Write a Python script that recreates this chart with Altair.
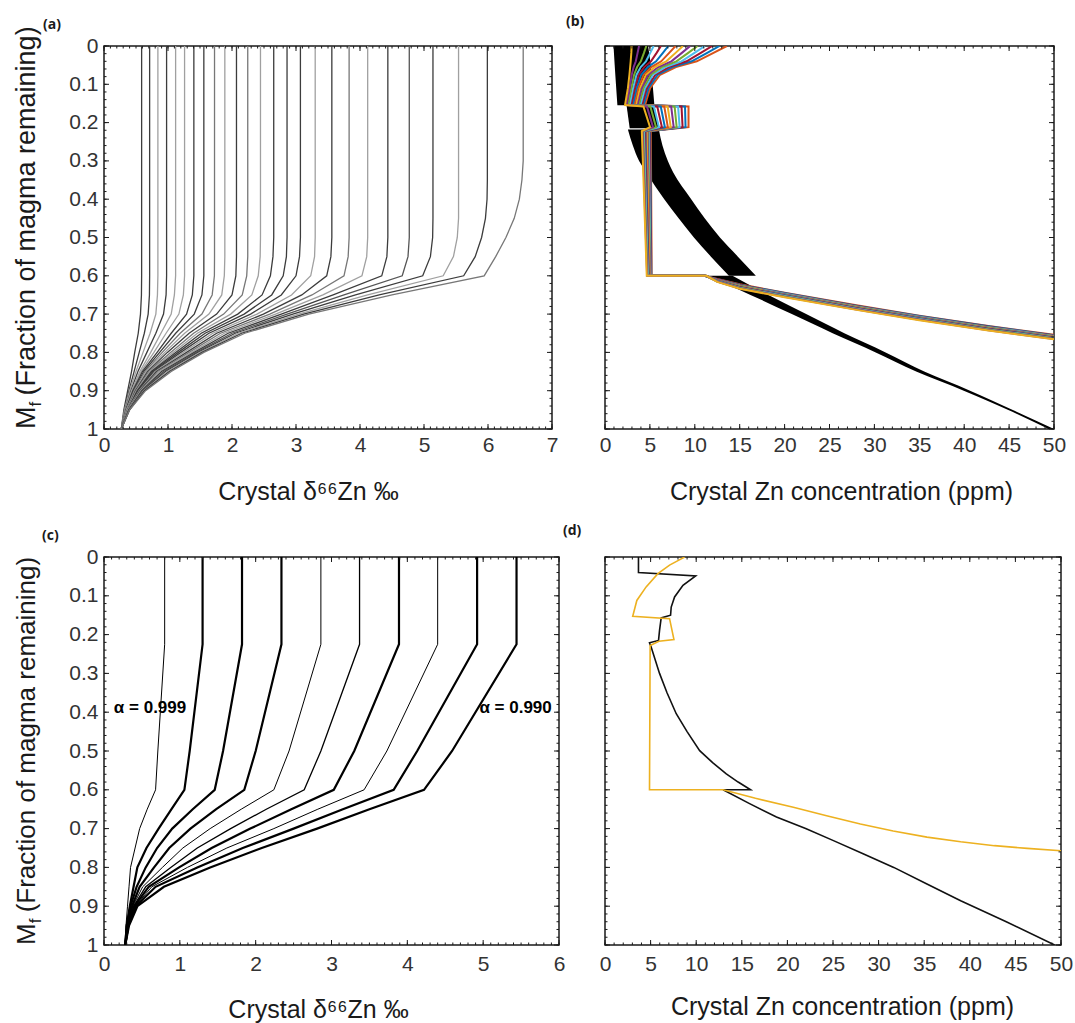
import altair as alt
import pandas as pd

FONT = "Liberation Sans"
INK = "#1a1a1a"
LABEL_INK = "#333333"

# ---------------- Panel (a): crystal d66Zn for many fractionation factors
A_LEVELS = [1.0, 0.95, 0.9, 0.85, 0.8, 0.75, 0.7, 0.65, 0.6, 0.55, 0.5, 0.45, 0.4, 0.35, 0.3]
A_CURVES = [
    [0.27, 0.31, 0.37, 0.43, 0.48, 0.535, 0.57, 0.585, 0.588],
    [0.27, 0.32, 0.39, 0.47, 0.55, 0.63, 0.69, 0.71, 0.713],
    [0.27, 0.32, 0.40, 0.50, 0.61, 0.72, 0.81, 0.835, 0.842],
    [0.27, 0.33, 0.42, 0.53, 0.67, 0.81, 0.93, 0.97, 0.978],
    [0.27, 0.33, 0.43, 0.56, 0.73, 0.89, 1.05, 1.10, 1.119],
    [0.27, 0.34, 0.44, 0.58, 0.78, 0.97, 1.17, 1.24, 1.259],
    [0.27, 0.34, 0.45, 0.60, 0.83, 1.05, 1.29, 1.38, 1.404],
    [0.27, 0.35, 0.46, 0.62, 0.87, 1.12, 1.41, 1.53, 1.56],
    [0.27, 0.35, 0.47, 0.64, 0.91, 1.19, 1.53, 1.69, 1.725, 1.727],
    [0.27, 0.35, 0.48, 0.66, 0.95, 1.26, 1.64, 1.84, 1.88, 1.888],
    [0.27, 0.36, 0.49, 0.68, 0.99, 1.33, 1.76, 2.00, 2.06, 2.07],
    [0.27, 0.36, 0.50, 0.70, 1.04, 1.40, 1.87, 2.16, 2.23, 2.246],
    [0.27, 0.36, 0.51, 0.72, 1.08, 1.46, 1.98, 2.31, 2.41, 2.44, 2.445],
    [0.27, 0.37, 0.52, 0.74, 1.12, 1.52, 2.09, 2.47, 2.60, 2.64, 2.652],
    [0.27, 0.37, 0.53, 0.76, 1.16, 1.58, 2.19, 2.62, 2.80, 2.85, 2.86],
    [0.27, 0.37, 0.54, 0.78, 1.20, 1.64, 2.29, 2.77, 3.00, 3.055, 3.069],
    [0.27, 0.37, 0.55, 0.80, 1.24, 1.70, 2.39, 2.93, 3.23, 3.29, 3.30],
    [0.27, 0.38, 0.56, 0.82, 1.29, 1.76, 2.49, 3.09, 3.48, 3.545, 3.56],
    [0.27, 0.38, 0.57, 0.84, 1.33, 1.82, 2.59, 3.25, 3.75, 3.815, 3.83],
    [0.27, 0.38, 0.58, 0.87, 1.37, 1.88, 2.68, 3.42, 4.03, 4.105, 4.12],
    [0.27, 0.39, 0.59, 0.90, 1.41, 1.94, 2.77, 3.58, 4.34, 4.42, 4.435],
    [0.27, 0.39, 0.60, 0.93, 1.44, 2.00, 2.86, 3.75, 4.66, 4.75, 4.77],
    [0.27, 0.39, 0.61, 0.96, 1.47, 2.05, 2.95, 3.93, 4.98, 5.10, 5.135, 5.14],
    [0.27, 0.40, 0.62, 0.99, 1.50, 2.10, 3.04, 4.12, 5.30, 5.46, 5.52, 5.54],
    [0.27, 0.40, 0.63, 1.02, 1.53, 2.15, 3.12, 4.30, 5.62, 5.80, 5.90, 5.96, 5.985, 5.99],
    [0.27, 0.40, 0.65, 1.05, 1.56, 2.20, 3.20, 4.50, 5.94, 6.12, 6.28, 6.41, 6.49, 6.53, 6.55],
]
A_SHADES = ["#3c3c3c", "#3c3c3c", "#a0a0a0", "#3c3c3c", "#a0a0a0", "#a0a0a0", "#3c3c3c",
            "#3c3c3c", "#777777", "#a0a0a0", "#3c3c3c", "#777777", "#a0a0a0", "#3c3c3c",
            "#3c3c3c", "#3c3c3c", "#a0a0a0", "#3c3c3c", "#777777", "#a0a0a0", "#3c3c3c",
            "#555555", "#3c3c3c", "#a0a0a0", "#3c3c3c", "#777777"]

# ---------------- Panel (c): ten fractionation factors, alpha 0.999 ... 0.990
C_LEVELS = [1.0, 0.95, 0.9, 0.85, 0.8, 0.75, 0.7, 0.65, 0.6, 0.5, 0.225]
C_CURVES = [
    [0.28, 0.29, 0.31, 0.33, 0.35, 0.41, 0.47, 0.57, 0.68, 0.71, 0.80],
    [0.28, 0.30, 0.34, 0.39, 0.44, 0.56, 0.72, 0.89, 1.06, 1.13, 1.30],
    [0.28, 0.30, 0.35, 0.43, 0.55, 0.70, 0.90, 1.17, 1.46, 1.57, 1.82],
    [0.28, 0.31, 0.37, 0.47, 0.66, 0.86, 1.14, 1.48, 1.85, 2.00, 2.34],
    [0.28, 0.31, 0.38, 0.51, 0.77, 1.04, 1.40, 1.81, 2.24, 2.44, 2.86],
    [0.28, 0.31, 0.39, 0.55, 0.88, 1.23, 1.67, 2.14, 2.64, 2.86, 3.37],
    [0.28, 0.32, 0.40, 0.59, 0.99, 1.42, 1.93, 2.47, 3.03, 3.30, 3.89],
    [0.28, 0.32, 0.41, 0.63, 1.10, 1.62, 2.24, 2.82, 3.43, 3.73, 4.40],
    [0.28, 0.32, 0.42, 0.68, 1.23, 1.83, 2.50, 3.15, 3.82, 4.13, 4.92],
    [0.28, 0.33, 0.44, 0.79, 1.40, 2.08, 2.81, 3.50, 4.22, 4.59, 5.44],
]
C_WIDTHS = [1.0, 2.2, 2.2, 2.2, 1.0, 1.3, 2.2, 1.0, 2.2, 2.2]
C_LABELS = ["α = 0.999", "α = 0.990"]
C_LABEL_X = [0.13, 4.95]
C_LABEL_MF = [0.39, 0.39]

# ---------------- Panel (b): crystal Zn concentration, family of models
B_BAND_MF = [0.0, 0.018, 0.04, 0.055, 0.075, 0.11, 0.154, 0.158, 0.212, 0.222, 0.6]
B_BAND_X = [
    [2.97, 3.79, 4.60, 5.42, 6.23, 7.05, 7.86, 8.68, 9.49, 10.31, 11.12, 11.94, 12.75, 13.57],
    [2.93, 3.63, 4.34, 5.04, 5.75, 6.45, 7.15, 7.86, 8.56, 9.27, 9.97, 10.67, 11.38, 12.08],
    [2.86, 3.43, 3.99, 4.56, 5.12, 5.69, 6.26, 6.82, 7.39, 7.95, 8.52, 9.09, 9.65, 10.22],
    [2.80, 3.19, 3.58, 3.98, 4.37, 4.76, 5.15, 5.55, 5.94, 6.33, 6.72, 7.12, 7.51, 7.90],
    [2.72, 2.98, 3.24, 3.51, 3.77, 4.03, 4.29, 4.56, 4.82, 5.08, 5.34, 5.61, 5.87, 6.13],
    [2.55, 2.74, 2.93, 3.12, 3.31, 3.50, 3.69, 3.88, 4.07, 4.26, 4.45, 4.64, 4.83, 5.02],
    [2.23, 2.40, 2.57, 2.74, 2.92, 3.09, 3.26, 3.43, 3.60, 3.77, 3.95, 4.12, 4.29, 4.46],
    [4.28, 4.67, 5.05, 5.44, 5.82, 6.21, 6.60, 6.98, 7.37, 7.75, 8.14, 8.52, 8.91, 9.30],
    [5.02, 5.35, 5.68, 6.01, 6.34, 6.67, 7.00, 7.32, 7.65, 7.98, 8.31, 8.64, 8.97, 9.30],
    [4.10, 4.18, 4.25, 4.33, 4.41, 4.48, 4.56, 4.64, 4.72, 4.79, 4.87, 4.95, 5.02, 5.10],
    [4.65, 4.69, 4.73, 4.78, 4.82, 4.86, 4.90, 4.95, 4.99, 5.03, 5.07, 5.12, 5.16, 5.20],
]
B_TAIL_START_X = [11.30, 11.28, 11.26, 11.24, 11.22, 11.20, 11.18, 11.16, 11.14, 11.12, 11.10, 11.08, 11.06, 11.04]
B_TAIL_X = [12.5, 15.0, 20.0, 28.0, 35.0, 42.7, 50.0]
B_TAIL_MF = [
    [0.616, 0.615, 0.615, 0.614, 0.614, 0.613, 0.612, 0.612, 0.611, 0.611, 0.610, 0.609, 0.609, 0.608],
    [0.634, 0.633, 0.632, 0.631, 0.630, 0.629, 0.629, 0.628, 0.627, 0.626, 0.625, 0.624, 0.623, 0.622],
    [0.656, 0.655, 0.654, 0.653, 0.652, 0.651, 0.651, 0.650, 0.649, 0.648, 0.647, 0.646, 0.645, 0.644],
    [0.689, 0.688, 0.687, 0.686, 0.685, 0.684, 0.684, 0.683, 0.682, 0.681, 0.680, 0.679, 0.678, 0.677],
    [0.716, 0.715, 0.714, 0.713, 0.712, 0.711, 0.711, 0.710, 0.709, 0.708, 0.707, 0.706, 0.705, 0.704],
    [0.743, 0.742, 0.741, 0.740, 0.739, 0.738, 0.738, 0.737, 0.736, 0.735, 0.734, 0.733, 0.732, 0.731],
    [0.766, 0.765, 0.764, 0.763, 0.762, 0.761, 0.761, 0.760, 0.759, 0.758, 0.757, 0.756, 0.755, 0.754],
]
B_COLORS = ["#EDB120", "#7E2F8E", "#77AC30", "#4DBEEE", "#A2142F", "#0072BD", "#D95319",
            "#EDB120", "#7E2F8E", "#77AC30", "#4DBEEE", "#A2142F", "#0072BD", "#D95319"]
# black envelope of the second model family (segments: Mf, left x, right x)
B_BLACK = [
    ([0.0, 0.05, 0.10, 0.155], [0.95, 1.08, 1.22, 1.38], [4.8, 5.1, 5.3, 5.5]),
    ([0.155, 0.215], [2.4, 2.75], [5.5, 5.95]),
    ([0.218, 0.26, 0.30, 0.33, 0.40, 0.45, 0.50, 0.55, 0.60],
     [2.55, 3.1, 3.8, 4.6, 6.6, 8.2, 9.9, 11.8, 13.8],
     [6.0, 6.4, 7.0, 7.6, 9.6, 11.1, 12.8, 14.8, 16.8]),
    ([0.60, 0.65, 0.70, 0.75, 0.80, 0.85, 0.90, 0.95, 1.0],
     [11.3, 16.2, 20.8, 25.35, 30.15, 34.65, 39.95, 44.85, 49.4],
     [14.2, 18.2, 22.4, 26.65, 31.25, 35.55, 40.65, 45.35, 50.0]),
]

# ---------------- Panel (d): two single models
D_BLACK_X = [3.67, 3.67, 9.94, 8.55, 7.63, 7.26, 7.19, 6.16, 5.98, 5.87, 4.88, 5.06, 5.98, 6.8,
             7.81, 9.0, 10.38, 11.8, 13.3, 14.6, 15.96, 12.95, 15.8, 18.8, 22.0, 25.05, 28.3,
             31.66, 35.3, 39.0, 44.0, 49.3]
D_BLACK_MF = [0.0, 0.040, 0.049, 0.073, 0.103, 0.129, 0.150, 0.157, 0.189, 0.215, 0.221, 0.232,
              0.30, 0.35, 0.404, 0.45, 0.499, 0.53, 0.559, 0.58, 0.6, 0.6, 0.635, 0.67, 0.70,
              0.731, 0.765, 0.8, 0.843, 0.886, 0.94, 1.0]
D_ORANGE_X = [8.73, 7.95, 7.08, 5.80, 4.51, 3.49, 3.04, 7.08, 7.56, 5.91, 4.95, 4.88, 12.95,
              16.5, 20.65, 24.3, 28.0, 31.6, 35.3, 39.0, 42.7, 46.3, 50.0]
D_ORANGE_MF = [0.0, 0.010, 0.021, 0.043, 0.077, 0.112, 0.153, 0.159, 0.213, 0.217, 0.228, 0.6,
               0.6, 0.622, 0.645, 0.667, 0.688, 0.706, 0.722, 0.734, 0.744, 0.751, 0.757]

Y_TICKS = [0, 0.1, 0.2, 0.3, 0.4, 0.5, 0.6, 0.7, 0.8, 0.9, 1]


# ---------------- helpers
def curves_df(levels, curves):
    rows = []
    for k, xs in enumerate(curves):
        for j, x in enumerate(xs):
            rows.append({"curve": k, "x": x, "mf": levels[j], "ord": j})
        rows.append({"curve": k, "x": xs[-1], "mf": 0.0, "ord": len(xs)})
    return pd.DataFrame(rows)


def yscale():
    return alt.Scale(domain=[0, 1], reverse=True, nice=False, zero=False)


def xscale(xmax):
    return alt.Scale(domain=[0, xmax], nice=False, zero=False)


def xaxis(values, title, title_x, title_y, lpad):
    return alt.Axis(values=values, format="~g", ticks=False, domain=False, grid=False,
                    labelFlush=False, labelFont=FONT, labelFontSize=21, labelColor=LABEL_INK,
                    labelPadding=lpad, title=title, titleFont=FONT, titleFontSize=25,
                    titleFontWeight="normal", titleColor=INK, titleX=title_x, titleY=title_y,
                    titleAlign="center", titleBaseline="middle")


def yaxis():
    return alt.Axis(values=Y_TICKS, format="~g", ticks=False, domain=False, grid=False,
                    labelFont=FONT, labelFontSize=21, labelColor=LABEL_INK, labelPadding=6,
                    title=None)


def frame_ticks(xs, xax, yax, xmax, xmaj, xmin, W, H):
    nmaj = int(round(xmax / xmaj))
    nmin = int(round(xmax / xmin))
    x_major = [round(i * xmaj, 6) for i in range(nmaj + 1)]
    x_minor = [round(i * xmin, 6) for i in range(nmin + 1)]
    y_major = [round(i * 0.1, 6) for i in range(11)]
    y_minor = [round(i * 0.02, 6) for i in range(51)]
    layers = []
    for vals, ln in ((x_major, 5), (x_minor, 2.5)):
        d = pd.DataFrame({"v": vals})
        for y0, y1 in ((0, ln), (H, H - ln)):
            layers.append(alt.Chart(d).mark_rule(color=INK, strokeWidth=1).encode(
                x=alt.X("v:Q", scale=xs, axis=xax), y=alt.value(y0), y2=alt.value(y1)))
    for vals, ln in ((y_major, 5), (y_minor, 2.5)):
        d = pd.DataFrame({"v": vals})
        for x0, x1 in ((0, ln), (W, W - ln)):
            layers.append(alt.Chart(d).mark_rule(color=INK, strokeWidth=1).encode(
                y=alt.Y("v:Q", scale=yscale(), axis=yax), x=alt.value(x0), x2=alt.value(x1)))
    return layers


def letter(t, lx, ly):
    return alt.Chart(pd.DataFrame({"t": [t]})).mark_text(
        font="Open Sans", fontSize=14, fontWeight="bold", align="left", baseline="middle",
        color=INK).encode(text="t:N", x=alt.value(lx), y=alt.value(ly))


def ytitle(H, fs):
    bx = -69
    m_w = 0.833 * fs
    parts = [("M", fs, bx, H), ("f", 17, bx + 6, H - m_w),
             ("(Fraction of magma remaining)", fs, bx, H - m_w - 11)]
    out = []
    for t, size, x, y in parts:
        out.append(alt.Chart(pd.DataFrame({"t": [t]})).mark_text(
            angle=270, align="left", baseline="alphabetic", font=FONT, fontSize=size,
            color=INK).encode(text="t:N", x=alt.value(x), y=alt.value(y)))
    return out


D66 = "Crystal δ⁶⁶Zn ‰"
ZN = "Crystal Zn concentration (ppm)"

# ---------------- panel (a)
WA, HA = 448, 383
xs_a = xscale(7)
xa_axis = xaxis(list(range(8)), D66, 204, 62, 5)
ya_axis = yaxis()
dfa = curves_df(A_LEVELS, A_CURVES)
dfa["shade"] = [A_SHADES[c] for c in dfa["curve"]]
lines_a = alt.Chart(dfa).mark_line(strokeWidth=1.3, clip=True).encode(
    x=alt.X("x:Q", scale=xs_a, axis=xa_axis),
    y=alt.Y("mf:Q", scale=yscale(), axis=ya_axis),
    detail="curve:N", order=alt.Order("ord:Q"),
    color=alt.Color("shade:N", scale=None))
panel_a = alt.layer(lines_a, *frame_ticks(xs_a, xa_axis, ya_axis, 7, 1, 0.1, WA, HA),
                    *ytitle(HA, 27), letter("(a)", -61, -21)).properties(width=WA, height=HA)

# ---------------- panel (b)
WB, HB = 449, 383
xs_b = xscale(50)
xb_axis = xaxis(list(range(0, 51, 5)), ZN, 236, 62, 5)
black_rows = []
for s, (mfs, xl, xr) in enumerate(B_BLACK):
    for m, a, b in zip(mfs, xl, xr):
        black_rows.append({"seg": s, "mf": m, "xl": a, "xr": b})
black_b = alt.Chart(pd.DataFrame(black_rows)).mark_area(
    orient="horizontal", color="black", clip=True, interpolate="monotone").encode(
    y=alt.Y("mf:Q", scale=yscale(), axis=None),
    x=alt.X("xl:Q", scale=xs_b, axis=xb_axis, stack=False),
    x2="xr:Q", detail="seg:N")

band_rows = []
n_lines = len(B_COLORS)
for i in reversed(range(n_lines)):
    o = 0
    for j, m in enumerate(B_BAND_MF):
        band_rows.append({"line": i, "x": B_BAND_X[j][i], "mf": m, "ord": o, "col": B_COLORS[i]})
        o += 1
    band_rows.append({"line": i, "x": B_TAIL_START_X[i], "mf": 0.6, "ord": o, "col": B_COLORS[i]})
    o += 1
    for j, x in enumerate(B_TAIL_X):
        band_rows.append({"line": i, "x": x, "mf": B_TAIL_MF[j][i], "ord": o, "col": B_COLORS[i]})
        o += 1
dfb = pd.DataFrame(band_rows)
band_b = alt.Chart(dfb[dfb["line"] != 0]).mark_line(strokeWidth=2, clip=True).encode(
    x=alt.X("x:Q", scale=xs_b, axis=xb_axis),
    y=alt.Y("mf:Q", scale=yscale(), axis=None),
    detail="line:N", order=alt.Order("ord:Q"), color=alt.Color("col:N", scale=None))
edge_b = alt.Chart(dfb[dfb["line"] == 0]).mark_line(strokeWidth=2, clip=True).encode(
    x=alt.X("x:Q", scale=xs_b, axis=xb_axis),
    y=alt.Y("mf:Q", scale=yscale(), axis=None),
    order=alt.Order("ord:Q"), color=alt.Color("col:N", scale=None))
panel_b = alt.layer(black_b, band_b, edge_b,
                    *frame_ticks(xs_b, xb_axis, None, 50, 5, 1, WB, HB),
                    letter("(b)", -39, -24)).properties(width=WB, height=HB)

# ---------------- panel (c)
WC, HC = 455, 388
xs_c = xscale(6)
xc_axis = xaxis(list(range(7)), D66, 214, 64, 8)
yc_axis = yaxis()
dfc = curves_df(C_LEVELS, C_CURVES)
dfc["sw"] = [C_WIDTHS[c] for c in dfc["curve"]]
lines_c = alt.Chart(dfc).mark_line(color="black", clip=True).encode(
    x=alt.X("x:Q", scale=xs_c, axis=xc_axis),
    y=alt.Y("mf:Q", scale=yscale(), axis=yc_axis),
    detail="curve:N", order=alt.Order("ord:Q"),
    strokeWidth=alt.StrokeWidth("sw:Q", scale=None))
lab_c = alt.Chart(pd.DataFrame({"t": C_LABELS, "x": C_LABEL_X, "mf": C_LABEL_MF})).mark_text(
    font=FONT, fontSize=17, fontWeight="bold", align="left", baseline="middle",
    color="black").encode(
    x=alt.X("x:Q", scale=xs_c, axis=xc_axis), y=alt.Y("mf:Q", scale=yscale(), axis=yc_axis),
    text="t:N")
panel_c = alt.layer(lines_c, lab_c, *frame_ticks(xs_c, xc_axis, yc_axis, 6, 1, 0.1, WC, HC),
                    *ytitle(HC, 26), letter("(c)", -62, -21)).properties(width=WC, height=HC)

# ---------------- panel (d)
WD, HD = 456, 388
xs_d = xscale(50)
xd_axis = xaxis(list(range(0, 51, 5)), ZN, 237, 61, 8)
rows_d = []
for k, (xs, ms, col) in enumerate(((D_BLACK_X, D_BLACK_MF, "#111111"),
                                   (D_ORANGE_X, D_ORANGE_MF, "#EDB120"))):
    for j, (x, m) in enumerate(zip(xs, ms)):
        rows_d.append({"curve": k, "x": x, "mf": m, "ord": j, "col": col})
lines_d = alt.Chart(pd.DataFrame(rows_d)).mark_line(strokeWidth=1.6, clip=True).encode(
    x=alt.X("x:Q", scale=xs_d, axis=xd_axis),
    y=alt.Y("mf:Q", scale=yscale(), axis=None),
    detail="curve:N", order=alt.Order("ord:Q"), color=alt.Color("col:N", scale=None))
panel_d = alt.layer(lines_d, *frame_ticks(xs_d, xd_axis, None, 50, 5, 1, WD, HD),
                    letter("(d)", -42, -26)).properties(width=WD, height=HD)

chart = alt.concat(panel_a, panel_b, panel_c, panel_d, columns=2, align="none",
                   spacing={"row": 128, "column": 46}, bounds="flush").properties(
    padding={"left": 12, "top": 14, "right": 0, "bottom": 0},
    background="white",
).configure_view(stroke=INK, strokeWidth=1.5)

chart.save("out.html", embed_options={"renderer": "svg", "actions": False})
